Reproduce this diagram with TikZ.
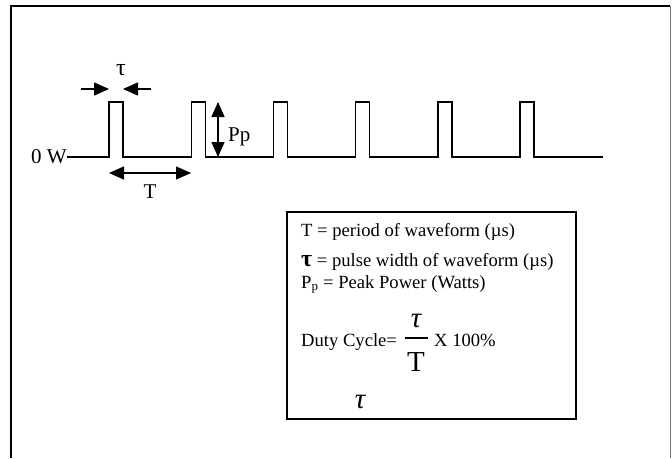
\documentclass[tikz,border=0pt]{standalone}
\usepackage{fontspec}
\setmainfont{Liberation Serif}
\usetikzlibrary{arrows.meta,positioning}
\tikzset{
  wave/.style={line width=1.4pt,line join=miter},
  dimarrow/.style={line width=1.4pt,-{Triangle[length=15pt,width=13pt]}},
  dimboth/.style={line width=1.4pt,{Triangle[length=15pt,width=13pt]}-{Triangle[length=15pt,width=13pt]}},
  wavelbl/.style={font=\fontsize{21}{24}\selectfont,inner sep=0pt},
  boxtxt/.style={font=\fontsize{18.6}{21}\selectfont,inner sep=0pt,anchor=base west},
}

\begin{document}
\begin{tikzpicture}[x=1pt,y=-1pt]
  \useasboundingbox (0,0) rectangle (672,458);
  % outer frame, open at the bottom
  \draw[line width=1.5pt] (11,458) -- (11,6) -- (670,6);
  \draw[line width=1pt,black!55] (670,6) -- (670,458);

  % pulse train
  \coordinate (start) at (67,157);
  \coordinate (stop) at (603,157);
  \foreach \i in {1,...,6}{
    \coordinate (rise\i) at ({109+82.2*(\i-1)},157);
    \coordinate (rtop\i) at ({109+82.2*(\i-1)},102);
    \coordinate (ftop\i) at ({123+82.2*(\i-1)},102);
    \coordinate (fall\i) at ({123+82.2*(\i-1)},157);
  }
  \draw[wave] (start) foreach \i in {1,...,6}{ -- (rise\i) -- (rtop\i) -- (ftop\i) -- (fall\i)} -- (stop);
  \node[wavelbl,anchor=east] (zero) at (start) {0 W};

  % pulse width
  \coordinate (tauL) at (81,89);
  \coordinate (tauLtip) at (109,89);
  \coordinate (tauR) at (151,89);
  \coordinate (tauRtip) at (123,89);
  \draw[dimarrow] (tauL) -- (tauLtip);
  \draw[dimarrow] (tauR) -- (tauRtip);
  \node[wavelbl,font=\fontsize{24}{24}\selectfont] (taulbl) at (121,70) {τ};

  % period
  \coordinate (perA) at (109,173);
  \coordinate (perB) at (191,173);
  \draw[dimboth] (perA) -- (perB);
  \node[wavelbl] (perlbl) at (150,192) {T};

  % peak power
  \coordinate (ppTop) at (218,102);
  \coordinate (ppBot) at (218,157);
  \draw[dimboth] (ppTop) -- (ppBot);
  \node[wavelbl,anchor=west] (pplbl) at (228,137) {Pp};

  % legend
  \node[draw,line width=1.4pt,minimum width=289pt,minimum height=207pt,inner sep=0pt] (legend) at (431.5,315.5) {};
  \node[boxtxt] (defT) at (301,236) {T = period of waveform (µs)};
  \node[boxtxt] (deftau) at (301,266) {{\fontsize{24}{24}\selectfont\bfseries τ} = pulse width of waveform (µs)};
  \node[boxtxt] (defpp) at (301,288) {P\textsubscript{p} = Peak Power (Watts)};
  \node[boxtxt] (duty) at (301,346) {Duty Cycle=};
  \node[font=\fontsize{29}{30}\selectfont\itshape,inner sep=0pt,anchor=base] (fracnum) at (416,327) {τ};
  \node[font=\fontsize{29}{30}\selectfont,inner sep=0pt,anchor=base] (fracden) at (416,371) {T};
  \coordinate (barL) at (405,338);
  \coordinate (barR) at (428,338);
  \draw[line width=1.2pt] (barL) -- (barR);
  \node[boxtxt] (pct) at (434,346) {X 100\%};
  \node[font=\fontsize{29}{30}\selectfont\itshape,inner sep=0pt,anchor=base] (tauend) at (360,408) {τ};
\end{tikzpicture}
\end{document}
